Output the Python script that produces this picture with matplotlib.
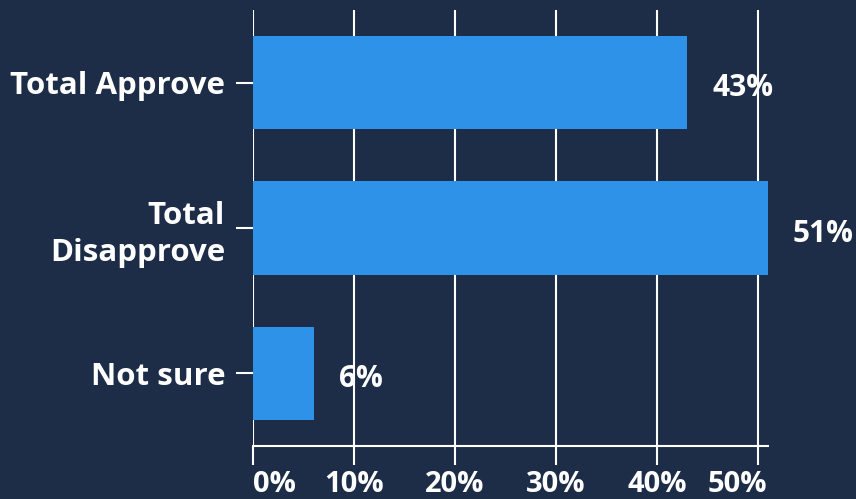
import matplotlib
matplotlib.use("Agg")
import matplotlib.pyplot as plt
from matplotlib.transforms import ScaledTranslation

categories = ["Total Approve", "Total\nDisapprove", "Not sure"]
values = [43, 51, 6]
xticks = [0, 10, 20, 30, 40, 50]
xtick_labels = ["0%", "10%", "20%", "30%", "40%", "50%"]

bg = "#1d2d47"
bar_color = "#2e93e8"

plt.rcParams['font.family'] = ['Open Sans', 'DejaVu Sans']
plt.rcParams['font.weight'] = 'bold'

fig = plt.figure(figsize=(8.56, 4.99), dpi=100, facecolor=bg)
ax = fig.add_axes([253/856, 1-446/499, (768-253)/856, (446-10)/499])
ax.set_facecolor(bg)

ypos = list(range(len(categories)))
ax.barh(ypos, values, height=0.64, color=bar_color, zorder=3)
ax.set_ylim(2.5, -0.5)
ax.set_xlim(0, 51)

for x in xticks:
    ax.axvline(x, color="white", lw=1.5, zorder=2)

for s in ["top", "right", "left"]:
    ax.spines[s].set_visible(False)
ax.spines["bottom"].set_color("white")
ax.spines["bottom"].set_linewidth(1.5)

ax.set_xticks(xticks)
ax.set_xticklabels(xtick_labels)
ax.set_yticks(ypos)
ax.set_yticklabels(categories, linespacing=1.3)
ax.tick_params(axis="x", colors="white", length=14, width=1.5, labelsize=21, pad=3.5)
ax.tick_params(axis="y", colors="white", length=12, width=1.5, labelsize=22.5, pad=8)
for lab in ax.get_yticklabels():
    lab.set_multialignment("right")
for lab in ax.get_xticklabels() + ax.get_yticklabels():
    lab.set_fontweight("bold")

xl = ax.get_xticklabels()
xl[0].set_horizontalalignment("left")
xl[-1].set_horizontalalignment("right")
xl[-1].set_transform(xl[-1].get_transform() + ScaledTranslation(9/100, 0, fig.dpi_scale_trans))

for y, v in zip(ypos, values):
    ax.annotate(f"{v}%", xy=(v, y), xytext=(18, -4), textcoords="offset points",
                va="center", ha="left", color="white", fontsize=21.5, fontweight="bold",
                annotation_clip=False)

fig.savefig("out.png", dpi=100, facecolor=bg)
